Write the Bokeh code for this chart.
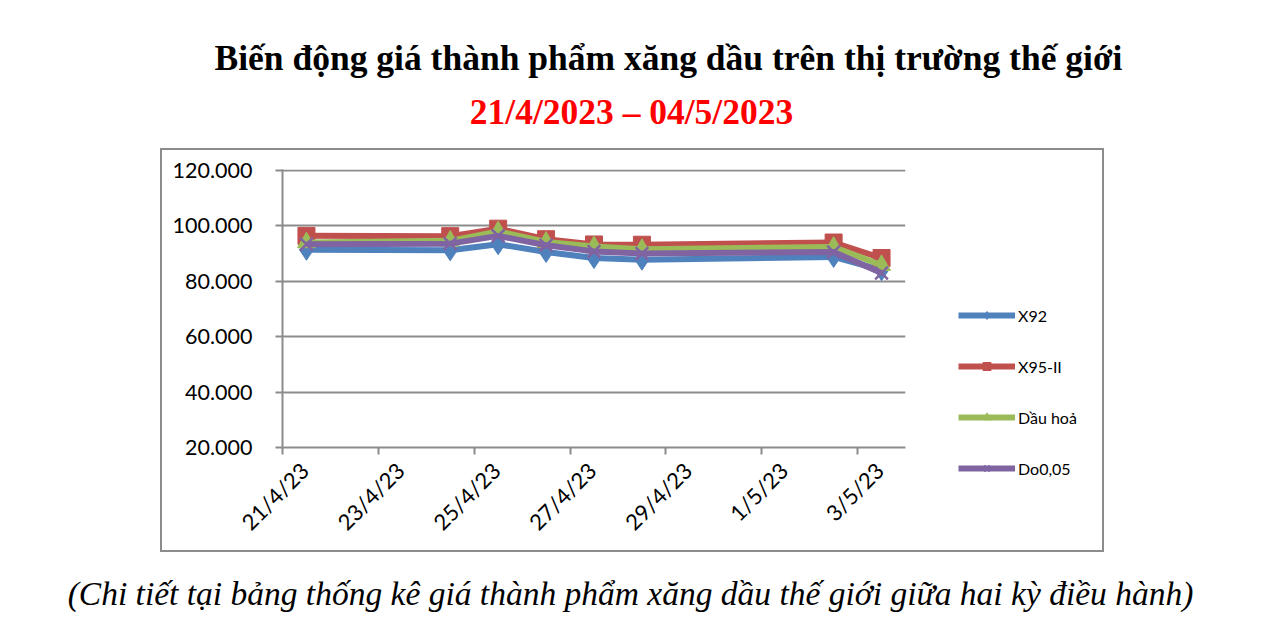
from datetime import datetime, timedelta
import pandas as pd
from bokeh.plotting import figure
from bokeh.layouts import column, row
from bokeh.models import (ColumnDataSource, FixedTicker, CustomJSTickFormatter, Legend,
                          LegendItem, Label, Range1d, NumeralTickFormatter, Spacer)
from bokeh.embed import file_html
from bokeh.resources import INLINE

# ---------------- data ----------------
dates = ["2023-04-21", "2023-04-24", "2023-04-25", "2023-04-26",
         "2023-04-27", "2023-04-28", "2023-05-02", "2023-05-03"]
x92 = [91.4, 91.2, 93.4, 90.6, 88.4, 87.8, 88.8, 84.0]
x95_ii = [96.4, 96.3, 99.0, 95.2, 93.3, 93.2, 94.0, 88.4]
dau_hoa = [94.0, 94.6, 98.0, 94.2, 92.6, 91.6, 92.4, 85.8]
do_005 = [93.4, 93.6, 96.4, 93.0, 90.8, 90.0, 90.6, 83.0]
series_names = ["X92", "X95-II", "Dầu hoả", "Do0,05"]
tick_dates = ["2023-04-21", "2023-04-23", "2023-04-25", "2023-04-27",
              "2023-04-29", "2023-05-01", "2023-05-03"]
y_ticks = [20, 40, 60, 80, 100, 120]
title_text = "Biến động giá thành phẩm xăng dầu trên thị trường thế giới"
subtitle_text = "21/4/2023 – 04/5/2023"
caption_text = "(Chi tiết tại bảng thống kê giá thành phẩm xăng dầu thế giới giữa hai kỳ điều hành)"

# ---------------- layout constants (page pixels) ----------------
PAGE_W = 1268
BOX_L, BOX_R, BOX_T, BOX_B = 160, 1104, 148, 552
LW = 2                                  # box line width
FR_L, FR_R, FR_T, FR_B = 282, 905, 169, 447
MAIN_R = 930                            # right edge of the plot element
CAP_H = 62
GRID = "#8c8c8c"

def text_fig(w, h):
    f = figure(width=w, height=h, output_backend="svg", toolbar_location=None,
               title=None, x_range=Range1d(0, w), y_range=Range1d(h, 0),
               min_border=0, x_axis_type=None, y_axis_type=None)
    f.outline_line_color = None
    f.grid.grid_line_color = None
    f.background_fill_color = "white"
    f.border_fill_color = "white"
    return f

# ---------------- title area ----------------
top = text_fig(PAGE_W, BOX_T)
top.add_layout(Label(x=668, y=57, text=title_text, text_align="center",
                     text_baseline="alphabetic", text_font="Liberation Serif",
                     text_font_style="bold", text_font_size="35.5px", text_color="black"))
top.add_layout(Label(x=631, y=111, text=subtitle_text, text_align="center",
                     text_baseline="alphabetic", text_font="Liberation Serif",
                     text_font_style="bold", text_font_size="35.5px", text_color="#FF0000"))

# ---------------- main chart ----------------
x_dt = pd.to_datetime(dates) + timedelta(hours=12)
src = ColumnDataSource(dict(x=x_dt, x92=x92, x95=x95_ii, dh=dau_hoa, do=do_005))

inner_l, inner_t = BOX_L + LW, BOX_T + LW
inner_h = BOX_B - BOX_T - 2 * LW
p = figure(width=MAIN_R - inner_l, height=inner_h, output_backend="svg",
           toolbar_location=None, title=None, x_axis_type="datetime",
           x_range=Range1d(datetime(2023, 4, 21), datetime(2023, 5, 4)),
           y_range=Range1d(20, 120 + 100 / (FR_B - FR_T)),
           min_border_left=FR_L - inner_l, min_border_right=MAIN_R - FR_R,
           min_border_top=FR_T - inner_t, min_border_bottom=inner_t + inner_h - FR_B)
p.outline_line_color = None
p.background_fill_color = "white"
p.border_fill_color = "white"

tick_ms = [pd.Timestamp(d).value / 1e6 for d in tick_dates]
label_offset_ms = 11 * 3600 * 1000  # anchor shift of the rotated labels
fmt_code = """
const d = new Date(tick);
return d.getUTCDate() + '/' + (d.getUTCMonth() + 1) + '/' + String(d.getUTCFullYear()).slice(2);
"""

# y axis
p.yaxis.ticker = FixedTicker(ticks=y_ticks)
p.yaxis.formatter = NumeralTickFormatter(format="0.000")
p.yaxis.major_label_standoff = 23
p.yaxis.major_label_text_font = "Lato"
p.yaxis.major_label_text_font_size = "21.5px"
p.yaxis.major_label_text_color = "black"
p.yaxis.major_tick_line_color = GRID
p.yaxis.major_tick_line_width = 2
p.yaxis.major_tick_in = 0
p.yaxis.major_tick_out = 7
p.yaxis.minor_tick_line_color = None

# x axis: tick marks as minor ticks at the dates, labels at shifted major ticks
p.xaxis.ticker = FixedTicker(ticks=[t + label_offset_ms for t in tick_ms], minor_ticks=tick_ms)
p.xaxis.formatter = CustomJSTickFormatter(code=fmt_code)
p.xaxis.major_tick_line_color = None
p.xaxis.major_tick_in = 0
p.xaxis.major_tick_out = 0
p.xaxis.minor_tick_line_color = GRID
p.xaxis.minor_tick_line_width = 2
p.xaxis.minor_tick_in = 0
p.xaxis.minor_tick_out = 7
p.xaxis.major_label_standoff = 12
p.xaxis.major_label_orientation = 0.785398
p.xaxis.major_label_text_font = "Lato"
p.xaxis.major_label_text_font_size = "22px"
p.xaxis.major_label_text_color = "black"

for ax in (p.xaxis, p.yaxis):
    ax.axis_line_color = GRID
    ax.axis_line_width = 2

p.xgrid.grid_line_color = None
p.ygrid.ticker = FixedTicker(ticks=y_ticks)
p.ygrid.grid_line_color = GRID
p.ygrid.grid_line_width = 2

colors = ["#4F81BD", "#C0504D", "#9BBB59", "#8064A2"]
cols = ["x92", "x95", "dh", "do"]
markers = ["diamond", "square", "triangle", "x"]
sizes = [21, 17, 18, 18]

def add_series(fig, source, col, color, mk, sz):
    ln = fig.line("x", col, source=source, line_color=color, line_width=6)
    if mk == "x":
        sc = fig.scatter("x", col, source=source, marker=mk, size=sz,
                         line_color=color, line_width=2.5)
    else:
        sc = fig.scatter("x", col, source=source, marker=mk, size=sz,
                         fill_color=color, line_color=color)
    return ln, sc

for col, color, mk, sz in zip(cols, colors, markers, sizes):
    add_series(p, src, col, color, mk, sz)

# ---------------- legend panel (below-right part of the box) ----------------
# The legend figure sits in its own row under the title strip of the box, so
# its frame is not aligned with the chart's frame.
leg_w = BOX_R - LW - MAIN_R
leg_top_px = 300                         # page y where the legend figure starts
lf = text_fig(leg_w, BOX_B - LW - leg_top_px)
items = []
for name, col, color, mk, sz in zip(series_names, cols, colors, markers, sizes):
    ln, sc = add_series(lf, src, col, color, mk, sz)
    items.append(LegendItem(label=name, renderers=[ln, sc]))
legend = Legend(items=items, location="top_left",
                orientation="vertical",
                glyph_width=57, glyph_height=20, label_height=20, spacing=31,
                label_standoff=3, padding=0, margin=0,
                border_line_color=None, background_fill_alpha=0,
                label_text_font="Lato", label_text_font_size="16px",
                label_text_color="black")
lf.add_layout(legend, "center")
lf.min_border_left = 958 - MAIN_R
lf.min_border_top = 305 - leg_top_px

right_col = column(Spacer(width=leg_w, height=leg_top_px - inner_t), lf, spacing=0)

# ---------------- box lines ----------------
def hline():
    return Spacer(width=BOX_R - BOX_L, height=LW, styles={"background-color": GRID})

def vline():
    return Spacer(width=LW, height=inner_h, styles={"background-color": GRID})

box_top = row(Spacer(width=BOX_L, height=LW), hline(), spacing=0)
box_mid = row(Spacer(width=BOX_L, height=inner_h), vline(), p, right_col, vline(), spacing=0)
box_bot = row(Spacer(width=BOX_L, height=LW), hline(), spacing=0)

# ---------------- caption ----------------
cap = text_fig(PAGE_W, CAP_H)
cap.add_layout(Label(x=630, y=593 - BOX_B, text=caption_text, text_align="center",
                     text_baseline="alphabetic", text_font="Liberation Serif",
                     text_font_style="italic", text_font_size="33.5px", text_color="black"))

layout = column(top, box_top, box_mid, box_bot, cap, spacing=0)
open("out.html", "w").write(file_html(layout, INLINE))
